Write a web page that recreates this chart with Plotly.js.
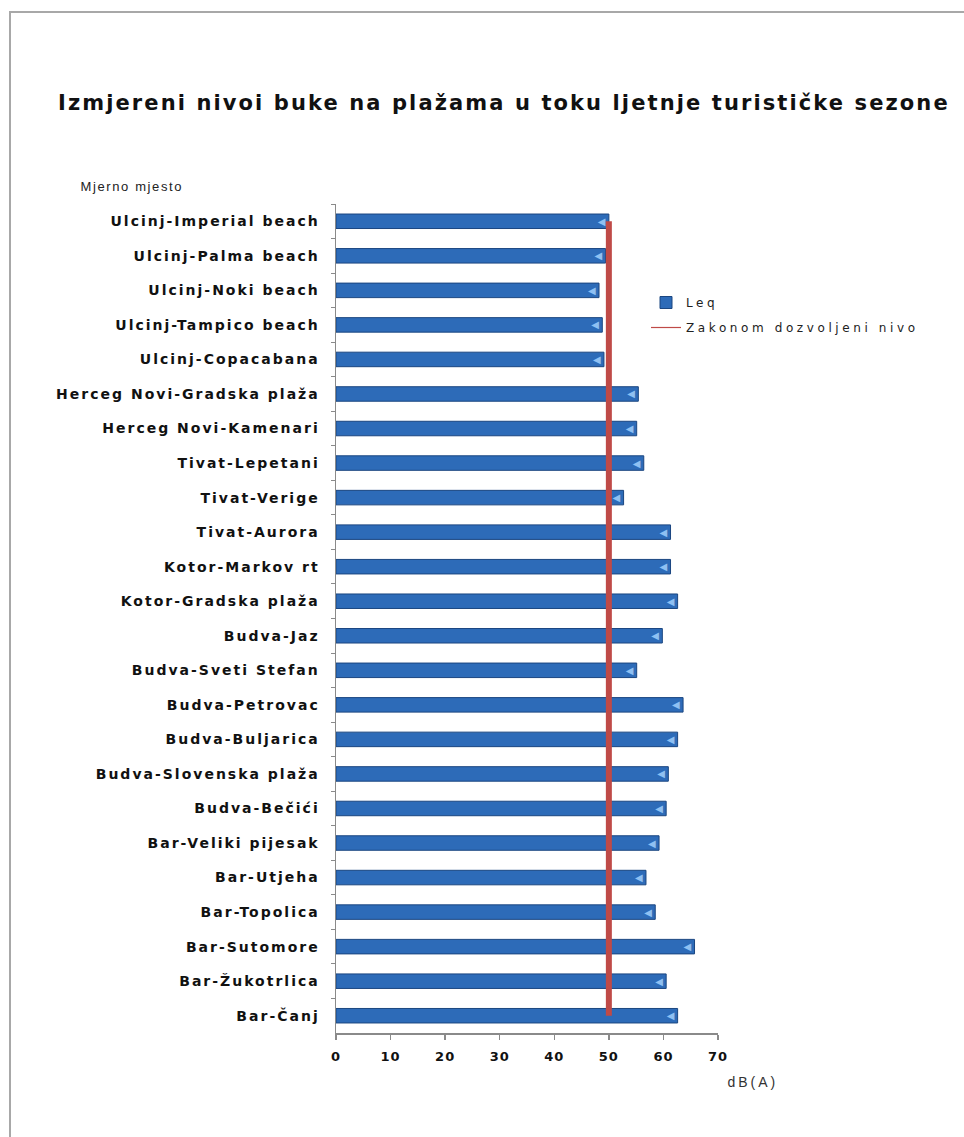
<!DOCTYPE html>
<html>
<head>
<meta charset="utf-8">
<script src="https://cdn.plot.ly/plotly-3.0.1.min.js"></script>
<style>
html,body{margin:0;padding:0;background:#fff;}
#wrap{position:relative;width:964px;height:1137px;}
#chart{width:964px;height:1137px;}
#frame{position:absolute;left:9px;top:11px;width:970px;height:1140px;border-left:2px solid #a8a8a8;border-top:2px solid #a8a8a8;pointer-events:none;}
.gtitle{letter-spacing:2.1px;}
.ytick text{letter-spacing:2px;}
.xtick text{letter-spacing:1px;}
.legendtext{letter-spacing:3.6px;}
.annotation[data-index="0"] text{letter-spacing:1.6px;}
.annotation[data-index="1"] text{letter-spacing:3px;}
</style>
</head>
<body>
<div id="wrap"><div id="chart"></div><div id="frame"></div></div>
<script>
const categories = [
  "Ulcinj-Imperial beach","Ulcinj-Palma beach","Ulcinj-Noki beach","Ulcinj-Tampico beach",
  "Ulcinj-Copacabana","Herceg Novi-Gradska plaža","Herceg Novi-Kamenari","Tivat-Lepetani",
  "Tivat-Verige","Tivat-Aurora","Kotor-Markov rt","Kotor-Gradska plaža","Budva-Jaz",
  "Budva-Sveti Stefan","Budva-Petrovac","Budva-Buljarica","Budva-Slovenska plaža",
  "Budva-Bečići","Bar-Veliki pijesak","Bar-Utjeha","Bar-Topolica","Bar-Sutomore",
  "Bar-Žukotrlica","Bar-Čanj"
];
const leq = [50.0, 49.4, 48.2, 48.8, 49.1, 55.4, 55.1, 56.4, 52.7, 61.3, 61.3, 62.6,
             59.8, 55.1, 63.6, 62.6, 60.9, 60.5, 59.2, 56.8, 58.5, 65.7, 60.5, 62.6];
const limitLevel = 50;
const limitX = [limitLevel, limitLevel];
const limitY = [categories[0], categories[categories.length-1]];
const xTicks = [0,10,20,30,40,50,60,70];

const W = 964, H = 1137;
const mL = 336, mR = 246, mT = 204, mB = 104;
const pw = W - mL - mR, ph = H - mT - mB;

const traces = [
  {
    type: 'bar', orientation: 'h', name: 'Leq',
    x: leq, y: categories,
    marker: {color: '#2d6bb8', line: {color: '#1b4680', width: 1}},
    texttemplate: '◀', textposition: 'inside', insidetextanchor: 'end', textangle: 0,
    textfont: {color: '#8fc0f2', size: 10, family: 'DejaVu Sans'},
    constraintext: 'none',
    hoverinfo: 'x+y', legendgroup: 'a'
  },
  {
    type: 'scatter', mode: 'lines', name: 'Zakonom dozvoljeni nivo',
    x: limitX, y: limitY, showlegend: false,
    line: {color: '#bf4a47', width: 6}, hoverinfo: 'skip'
  },
  {
    type: 'scatter', mode: 'lines', name: 'Zakonom dozvoljeni nivo',
    x: [null], y: [null], showlegend: true, legendgroup: 'b',
    line: {color: '#bf4a47', width: 1.2}, hoverinfo: 'skip'
  }
];

const layout = {
  width: W, height: H,
  margin: {l: mL, r: mR, t: mT, b: mB},
  paper_bgcolor: '#ffffff', plot_bgcolor: '#ffffff',
  showlegend: true,
  bargap: 0.58,
  title: {
    text: 'Izmjereni nivoi buke na plažama u toku ljetnje turističke sezone',
    font: {family: 'DejaVu Sans', size: 21, color: '#111', weight: 'bold'},
    x: 58/W, xanchor: 'left', xref: 'container',
    y: 1 - 103/H, yanchor: 'middle', yref: 'container'
  },
  xaxis: {
    range: [0, 70], tickvals: xTicks, ticktext: xTicks.map(String),
    showgrid: false, zeroline: false,
    showline: true, linecolor: '#8a8a8a', linewidth: 1.5,
    ticks: 'outside', ticklen: 5, tickcolor: '#8a8a8a', tickwidth: 1.5,
    ticklabelstandoff: 6,
    tickfont: {family: 'DejaVu Sans', size: 13, color: '#111', weight: 'bold'},
    fixedrange: true
  },
  yaxis: {
    type: 'category', categoryorder: 'array', categoryarray: categories,
    range: [categories.length - 0.5, -0.5], autorange: false,
    showgrid: false, zeroline: false,
    showline: true, linecolor: '#8a8a8a', linewidth: 1.5,
    ticks: 'outside', tickson: 'boundaries', ticklen: 4, tickcolor: '#8a8a8a',
    ticklabelstandoff: 12,
    tickfont: {family: 'DejaVu Sans', size: 14, color: '#111', weight: 'bold'},
    fixedrange: true
  },
  legend: {
    x: (646 - mL) / pw, xanchor: 'left',
    y: (H - mB - 288) / ph, yanchor: 'top',
    bgcolor: 'rgba(0,0,0,0)',
    font: {family: 'DejaVu Sans', size: 12, color: '#222'},
    traceorder: 'grouped', tracegroupgap: 6,
    itemwidth: 30
  },
  annotations: [
    {text: 'Mjerno mjesto', xref: 'paper', yref: 'paper',
     x: (89 - mL) / pw, xanchor: 'left',
     y: (H - mB - 187) / ph, yanchor: 'middle',
     showarrow: false, font: {family: 'Liberation Sans', size: 13, color: '#222'}},
    {text: 'dB(A)', xref: 'paper', yref: 'paper',
     x: (733 - mL) / pw, xanchor: 'left',
     y: (H - mB - 1082) / ph, yanchor: 'middle',
     showarrow: false, font: {family: 'Liberation Sans', size: 14, color: '#333'}}
  ]
};

Plotly.newPlot('chart', traces, layout, {displayModeBar: false, staticPlot: true});
</script>
</body>
</html>
